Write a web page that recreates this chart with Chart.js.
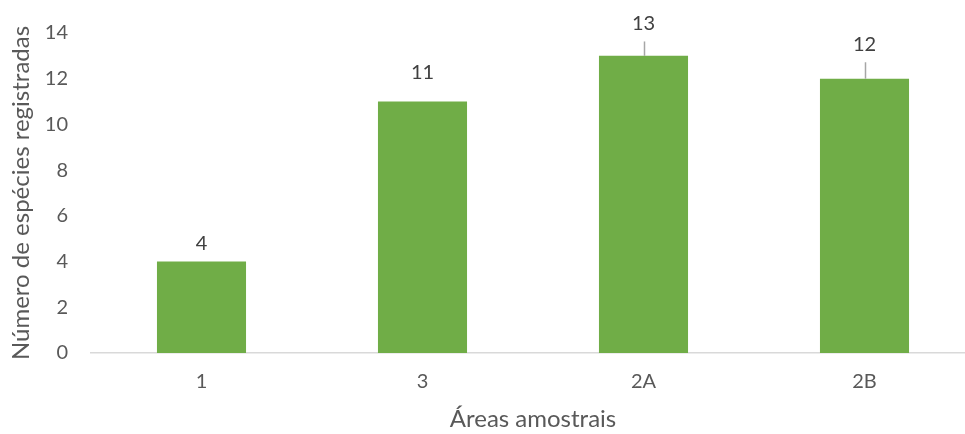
<!DOCTYPE html>
<html>
<head>
<meta charset="utf-8">
<script src="https://cdn.jsdelivr.net/npm/chart.js@4"></script>
<style>
  body { margin: 0; overflow: hidden; background: #fff; }
  #wrap { width: 976px; height: 434px; }
</style>
</head>
<body>
<div id="wrap"><canvas id="bar_chart"></canvas></div>
<script>
// data
const areas = ["1", "3", "2A", "2B"];
const especies = [4, 11, 13, 12];
// upper error bar (only 2A and 2B are drawn, 3 just pushes its label up)
const erroSup = [0, 0.5, 0.63, 0.72];
const erroVisivel = [false, false, true, true];

const textFont = "Lato, 'Open Sans', sans-serif";

// draws error bars + value labels on top of each bar
const labelPlugin = {
    id: "labels_and_errors",
    afterDatasetsDraw(chart) {
        const ctx = chart.ctx;
        const y = chart.scales.y;
        const meta = chart.getDatasetMeta(0);
        ctx.save();
        meta.data.forEach(function(bar, i) {
            const topVal = especies[i] + erroSup[i];
            const yTop = y.getPixelForValue(topVal);
            if (erroVisivel[i]) {
                ctx.strokeStyle = "#a6a6a6";
                ctx.lineWidth = 1.5;
                ctx.beginPath();
                ctx.moveTo(Math.round(bar.x) + 0.5, bar.y);
                ctx.lineTo(Math.round(bar.x) + 0.5, yTop);
                ctx.stroke();
            }
            ctx.fillStyle = "#404040";
            ctx.font = "20px " + textFont;
            ctx.textAlign = "center";
            ctx.textBaseline = "middle";
            ctx.fillText(String(especies[i]), bar.x, yTop - 18);
        });
        ctx.restore();
    }
};

const config = {
    type: "bar",
    data: {
        labels: areas,
        datasets: [
            {
                label: "Número de espécies",
                data: especies,
                backgroundColor: "#70AD47",
                borderWidth: 0,
                barPercentage: 0.403,
                categoryPercentage: 1
            }
        ]
    },
    options: {
        responsive: true,
        maintainAspectRatio: false,
        animation: false,
        layout: { padding: { top: 33, right: 1, left: 0, bottom: 0 } },
        plugins: {
            legend: { display: false },
            tooltip: { enabled: false }
        },
        scales: {
            x: {
                grid: { display: false, drawTicks: false },
                border: { display: true, color: "#d9d9d9", width: 1.5 },
                ticks: {
                    color: "#595959",
                    font: { family: textFont, size: 20 },
                    padding: 17
                },
                title: {
                    display: true,
                    text: "Áreas amostrais",
                    color: "#595959",
                    font: { family: textFont, size: 24 },
                    padding: { top: 8, bottom: 0 }
                },
                afterFit(scale) { scale.height = 81; }
            },
            y: {
                min: 0,
                max: 14,
                grid: { display: false, drawTicks: false },
                border: { display: false },
                ticks: {
                    stepSize: 2,
                    color: "#595959",
                    font: { family: textFont, size: 20 },
                    padding: 23
                },
                title: {
                    display: true,
                    text: "Número de espécies registradas",
                    color: "#595959",
                    font: { family: textFont, size: 24 },
                    padding: { top: 7, bottom: 0 }
                },
                afterFit(scale) {
                    scale.width = 91;
                    // tick padding would otherwise push the plot top down
                    scale.paddingTop = 0;
                    scale.paddingBottom = 0;
                }
            }
        }
    },
    plugins: [labelPlugin]
};

const canvas = document.getElementById("bar_chart");
let my_bar_chart = new Chart(canvas, config);
</script>
</body>
</html>
